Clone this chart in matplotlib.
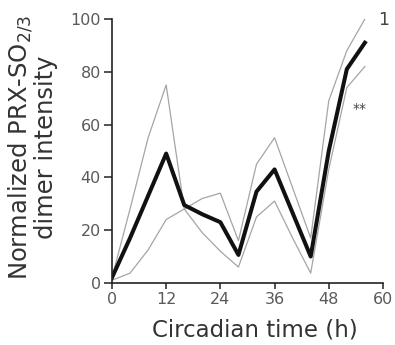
import matplotlib
matplotlib.use("Agg")
import matplotlib.pyplot as plt

# circadian time points (h)
ct = [0, 4, 8, 12, 16, 20, 24, 28, 32, 36, 40, 44, 48, 52, 56]
# mean dimer intensity (thick line)
mean_int = [2, 17, 33, 49, 29.5, 26, 23, 10.6, 34.6, 43, 26.5, 10, 50, 81, 91]
# the two thin replicate / error lines
line_a = [2, 28, 55, 75, 28, 19, 12, 6, 25, 31, 17, 3.7, 43, 74, 82]
line_b = [1, 3.7, 12.5, 24, 28, 32, 34, 16, 45, 55, 36, 17, 69, 88, 100]

xticks = [0, 12, 24, 36, 48, 60]
yticks = [0, 20, 40, 60, 80, 100]

fig = plt.figure(figsize=(3.95, 3.45), dpi=100)
ax = fig.add_axes([0.2835, 0.18, 0.686, 0.765])

ax.plot(ct, line_a, color='#a5a5a5', lw=0.9)
ax.plot(ct, line_b, color='#a5a5a5', lw=0.9)
ax.plot(ct, mean_int, color='#111111', lw=2.9)

ax.set_xlim(0, 60)
ax.set_ylim(0, 100)
ax.set_xticks(xticks)
ax.set_yticks(yticks)
ax.tick_params(axis='y', direction='out', length=6, width=1.1, color='#222222',
               labelsize=11.5, labelcolor='#5a5a5a', pad=2)
ax.tick_params(axis='x', direction='out', length=4.5, width=1.1, color='#222222',
               labelsize=11.5, labelcolor='#5a5a5a', pad=2)
for s in ['top', 'right']:
    ax.spines[s].set_visible(False)
for s in ['left', 'bottom']:
    ax.spines[s].set_linewidth(1.2)
    ax.spines[s].set_color('#222222')

ax.set_xlabel('Circadian time (h)', fontsize=16.5, color='#333333')
ax.xaxis.set_label_coords(0.526, -0.133)
ax.set_ylabel('Normalized PRX-SO$_{2/3}$\ndimer intensity', fontsize=17.5,
              color='#333333', linespacing=0.95)
ax.yaxis.set_label_coords(-0.2, 0.515)

ax.text(54.9, 66, '**', fontsize=10, color='#444444', ha='center', va='center')
ax.text(60.2, 99.5, '1', fontsize=12.5, color='#444444', ha='center', va='center',
        clip_on=False)

fig.savefig('out.png', dpi=100)
